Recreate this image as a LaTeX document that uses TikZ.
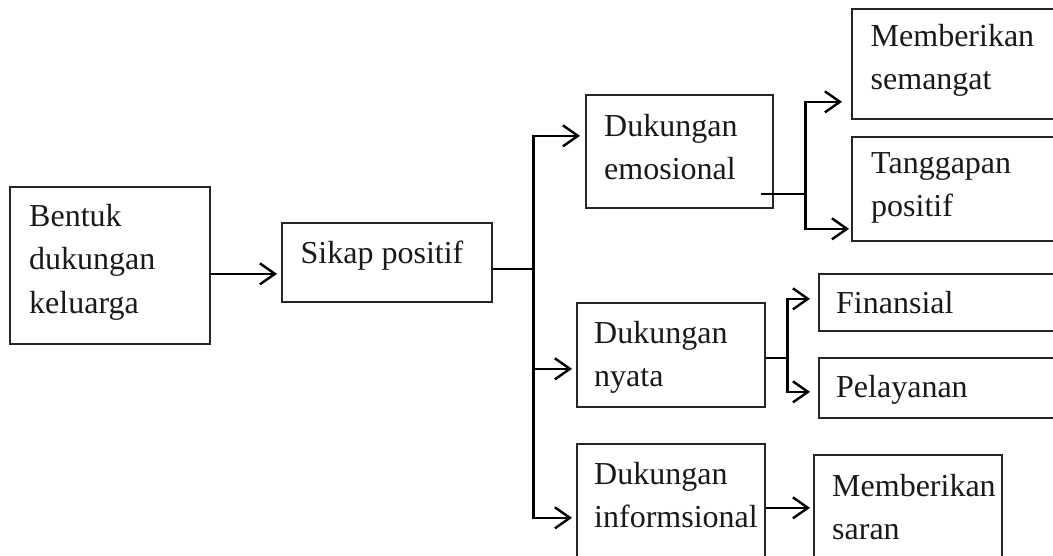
\documentclass[tikz,border=0pt]{standalone}
\usepackage{fontspec}
\setmainfont{Liberation Serif}
\usetikzlibrary{arrows.meta}
\begin{document}
\begin{tikzpicture}[x=1pt,y=1pt,
  box/.style={draw=black!85, line width=1.7pt, rectangle, inner sep=0pt, anchor=north west},
  txt/.style={anchor=north west, inner sep=0pt, align=left, text=black!90,
    font=\fontsize{32}{43.5}\selectfont},
  conn/.style={line width=2.6pt, line join=miter},
  arr/.style={conn, -{Straight Barb[length=15pt, width=21pt, line width=2.4pt]}},
]
\useasboundingbox (0,0) rectangle (1053,-556);

% boxes
\node[box, minimum width=200, minimum height=157] (A)  at (9,-186)   {};
\node[box, minimum width=210, minimum height=79]  (B)  at (281,-222) {};
\node[box, minimum width=187, minimum height=113] (C1) at (585,-94)  {};
\node[box, minimum width=188, minimum height=104] (C2) at (576,-302) {};
\node[box, minimum width=188, minimum height=130] (C3) at (576,-443) {};
\node[box, minimum width=230, minimum height=110] (D1) at (851,-8)   {};
\node[box, minimum width=230, minimum height=104] (D2) at (851,-136) {};
\node[box, minimum width=260, minimum height=57]  (D3) at (818,-273) {};
\node[box, minimum width=260, minimum height=60]  (D4) at (818,-357) {};
\node[box, minimum width=188, minimum height=120] (D5) at (813,-454) {};

% labels
\node[txt] (tA)  at ([shift={(20,-18)}]A.north west)   {Bentuk\\dukungan\\keluarga};
\node[txt] (tB)  at ([shift={(19.5,-19)}]B.north west) {Sikap positif};
\node[txt] (tC1) at ([shift={(19,-20)}]C1.north west)  {Dukungan\\emosional};
\node[txt] (tC2) at ([shift={(18,-19)}]C2.north west)  {Dukungan\\nyata};
\node[txt] (tC3) at ([shift={(18,-19)}]C3.north west)  {Dukungan\\informsional};
\node[txt] (tD1) at ([shift={(19.5,-16)}]D1.north west) {Memberikan\\semangat};
\node[txt] (tD2) at ([shift={(20,-16)}]D2.north west)  {Tanggapan\\positif};
\node[txt] (tD3) at ([shift={(18,-18)}]D3.north west)  {Finansial};
\node[txt] (tD4) at ([shift={(18,-18)}]D4.north west)  {Pelayanan};
\node[txt] (tD5) at ([shift={(19,-20)}]D5.north west)  {Memberikan\\saran};

% ports
\path ([yshift=-8.5]A.east) coordinate (aout)
      ([yshift=-6.5]B.east) coordinate (bout)
      ([xshift=41]bout) coordinate (j1)
      ([yshift=15.5]C1.west) coordinate (c1in)
      ([yshift=-14]C2.west) coordinate (c2in)
      ([yshift=-9]C3.west) coordinate (c3in)
      ([shift={(-13,-42.5)}]C1.east) coordinate (c1out)
      ([xshift=45]c1out) coordinate (c1j)
      ([yshift=-38]D1.west) coordinate (d1in)
      ([yshift=-40]D2.west) coordinate (d2in)
      ([yshift=-3]C2.east) coordinate (c2out)
      ([xshift=22]c2out) coordinate (c2j)
      ([yshift=3.5]D3.west) coordinate (d3in)
      ([yshift=-4]D4.west) coordinate (d4in)
      ([yshift=1]C3.east) coordinate (c3out);

% connectors
\draw[arr, shorten >=4pt] (aout) -- (aout -| B.west);
\draw[conn] (bout) -- (j1);
\draw[arr, shorten >=5pt] (j1) |- (c1in);
\draw[arr, shorten >=4pt] (j1) |- (c3in);
\draw[arr, shorten >=4pt] (j1 |- c2in) -- (c2in);

\draw[conn] (c1out) -- (c1j);
\draw[arr, shorten >=9pt] (c1j) |- (d1in);
\draw[arr, shorten >=2pt] (c1j) |- (d2in);

\draw[conn] (c2out) -- (c2j);
\draw[arr, shorten >=8pt] (c2j) |- (d3in);
\draw[arr, shorten >=8pt] (c2j) |- (d4in);

\draw[arr, shorten >=3pt] (c3out) -- (c3out -| D5.west);
\end{tikzpicture}
\end{document}
